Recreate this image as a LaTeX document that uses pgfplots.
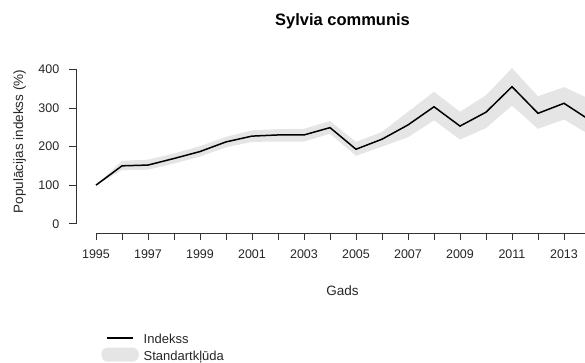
\documentclass[border=0pt]{standalone}
\usepackage{fontspec}
\setmainfont{Liberation Sans}
\usepackage{pgfplots}
\pgfplotsset{compat=1.18}
\usepgfplotslibrary{fillbetween}

% year, index, lower and upper bound of the standard error band
\pgfplotstableread{
year idx lo hi
1995 100 100 100
1996 150 139 163
1997 152 140 166
1998 169 156 182
1999 187 174 201
2000 212 198 225
2001 227 212 242
2002 230 213 245
2003 230 213 246
2004 249 233 266
2005 193 176 212
2006 219 200 238
2007 256 224 290
2008 303 268 342
2009 253 218 290
2010 289 248 333
2011 355 306 403
2012 286 246 330
2013 312 270 354
2014 268 230 323
}\sylvia

\definecolor{axisgray}{gray}{0.2}
\definecolor{bandgray}{gray}{0.9}

\begin{document}
\begin{tikzpicture}
\begin{axis}[
  at={(76.24pt,-233pt)}, anchor=south west,
  x=26pt, y=0.386pt,
  xmin=1994.24, xmax=2014.76,
  ymin=-24, ymax=420,
  axis line style={draw=none},
  xtick pos=bottom, ytick pos=left,
  tick align=outside,
  major tick length=7pt,
  tick style={axisgray, line width=0.75pt},
  xtick={1995,...,2014},
  xticklabels={1995,,1997,,1999,,2001,,2003,,2005,,2007,,2009,,2011,,2013,},
  ytick={0,100,200,300,400},
  /pgf/number format/assume math mode=true,
  ticklabel style={font=\fontsize{12.5}{15}\selectfont, text=black!85},
  xticklabel style={yshift=-6pt},
  yticklabel style={xshift=-6.5pt},
  clip=true,
]
  \addplot[name path=hi, draw=none] table[x=year, y=hi] {\sylvia};
  \addplot[name path=lo, draw=none] table[x=year, y=lo] {\sylvia};
  \addplot[fill=bandgray, draw=none] fill between[of=hi and lo];
  \addplot[black, line width=1.5pt] table[x=year, y=idx] {\sylvia};
\end{axis}

% axis lines in the base-graphics style: only over the tick range
\draw[axisgray, line width=0.75pt] (76.24pt,-223.74pt) -- (76.24pt,-69.34pt);
\draw[axisgray, line width=0.75pt] (96pt,-233pt) -- (620pt,-233pt);

% title and axis labels
\node[anchor=base, font=\bfseries\fontsize{16.5}{19}\selectfont] at (342.5pt,-26pt) {Sylvia communis};
\node[anchor=base, font=\fontsize{13.5}{16}\selectfont, text=black!85] at (342.5pt,-295pt) {Gads};
\node[anchor=base, rotate=90, font=\fontsize{13.5}{16}\selectfont, text=black!85] at (23pt,-141.5pt) {Populācijas indekss (\%)};

% legend
\draw[black, line width=1.5pt] (107pt,-338pt) -- (133pt,-338pt);
\fill[bandgray, rounded corners=6.5pt] (101.5pt,-347.5pt) rectangle (138.8pt,-361.7pt);
\node[anchor=base west, inner sep=0pt, font=\fontsize{13}{16}\selectfont, text=black!85] at (143.5pt,-343pt) {Indekss};
\node[anchor=base west, inner sep=0pt, font=\fontsize{13}{16}\selectfont, text=black!85] at (143.5pt,-360pt) {Standartkļūda};

\pgfresetboundingbox
\useasboundingbox (0pt,0pt) rectangle (585pt,-363pt);
\end{tikzpicture}
\end{document}
